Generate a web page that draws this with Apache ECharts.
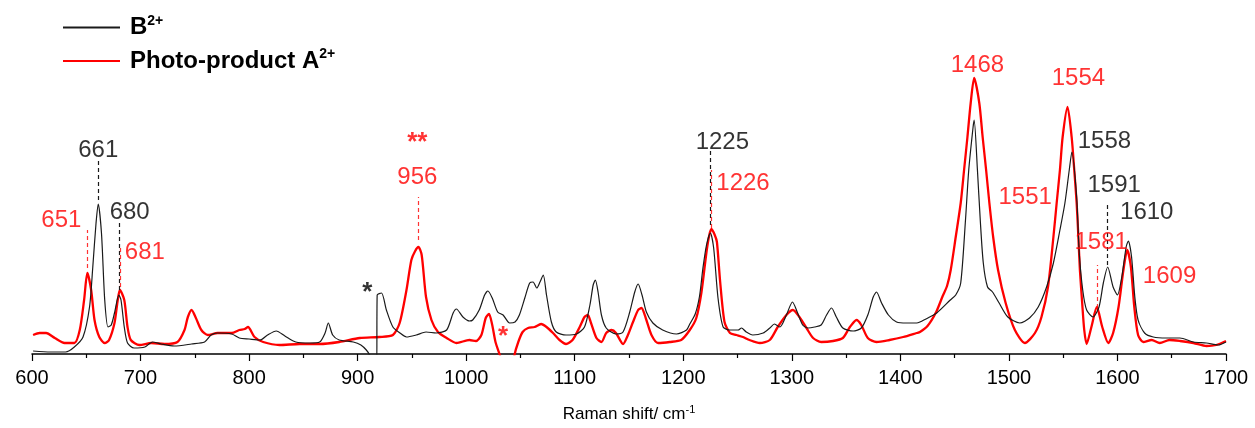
<!DOCTYPE html>
<html>
<head>
<meta charset="utf-8">
<script src="https://cdn.jsdelivr.net/npm/echarts@6/dist/echarts.min.js"></script>
<style>
  html, body { margin: 0; padding: 0; background: #fff; }
  #chart { width: 1255px; height: 428px; }
</style>
</head>
<body>
<div id="chart"></div>
<script>
// Raman spectra: wavenumber (cm-1) and intensity (a.u.)
const spectrumB = [
  [601,3],[617,2],[631,2],[639,7],[647,17],[653,47],[656,87],[659,131],[661,150],[664,121],
  [667,54],[670,27],[673,29],[676,41],[680,59],[682,54],[685,27],[688,11],[694,6],[704,7],
  [711,12],[719,10],[731,8],[747,10],[759,12],[765,19],[771,21],[784,20],[791,16],[800,15],
  [810,14],[817,19],[825,23],[833,18],[843,12],[856,11],[865,12],[870,21],[873,31],[877,19],
  [883,14],[896,12],[903,9],[908,4],[911,-1],[914,-12],[917.5,-12],[918,59],[922,61],[926.5,44],
  [932.5,27],[939,21],[945,17],[954,19],[963,22],[972.5,21],[982,24],[988,41],[991,45],[997,37],
  [1003,33],[1006,34],[1012,44],[1017,59],[1020,63],[1024,56],[1029,42],[1034,39],[1040,31],[1045,32],
  [1049,39],[1054,56],[1058.5,71],[1061.6,72],[1065,66],[1068,72],[1071,79],[1074,59],[1078.5,32],[1083,22],
  [1092,19],[1101.6,20],[1109,27],[1114,49],[1117,69],[1119,74],[1121.5,62],[1124.6,39],[1129,26],[1138,20],
  [1144.5,22],[1150.7,42],[1155.3,62],[1158.4,70],[1162,59],[1166,42],[1172,31],[1181,24],[1193.7,20],[1203,24],
  [1206,30],[1211,40],[1215,58],[1218,85],[1221.4,109],[1225,121],[1228,106],[1232,56],[1236.7,27],[1243,24],
  [1250.5,24],[1253.6,26],[1258,22],[1264,19],[1273.6,21],[1279.7,26],[1284,30],[1289,27],[1295,39],[1300.6,52],
  [1305,42],[1310,29],[1315,26],[1321,27],[1327,29],[1332,39],[1336.6,46],[1341,37],[1347,26],[1356.5,23],
  [1364,26],[1370,39],[1375,57],[1378,62],[1382.7,51],[1389,39],[1396.5,32],[1405.8,31],[1415,31],[1418,32],
  [1427,37],[1433.5,41],[1446,54],[1451,59],[1455.6,71],[1460,134],[1463,184],[1467,227],[1468,234],[1471,184],
  [1473.6,134],[1476.4,91],[1480.3,67],[1484.9,62],[1491,51],[1499,37],[1510,31],[1519,36],[1527,47],[1534.7,67],
  [1541,91],[1547,124],[1551.6,151],[1555.6,184],[1558,202],[1562.4,157],[1564.8,101],[1568,64],[1571.6,44],[1577.5,37],
  [1583,47],[1587,71],[1591,87],[1596,67],[1600,59],[1604,77],[1608,107],[1610,113],[1613,97],[1616,57],
  [1619,34],[1625,21],[1633,17],[1645,16],[1657.6,16],[1670,12],[1682,11],[1693,9],[1700,12]
];

const spectrumA = [
  [601,19],[607,21],[613,21],[621,16],[630,11],[639,11],[644,24],[648,54],[651,81],[654.5,64],
  [657.6,34],[662,17],[667,11],[671,14],[676,31],[679,54],[681,64],[685,54],[688,27],[691,14],
  [699,9],[710,11],[722,10],[734,12],[740.5,24],[743.6,37],[747,44],[751,36],[756,24],[762,19],
  [771,21],[784,21],[791,24],[796,25],[799,27],[805,17],[813,12],[828,9],[846.5,10],[865,10],
  [883,12],[902,16],[920,17],[932.5,19],[938.7,31],[945,64],[949.5,94],[953,103],[956,107],[959,99],
  [963,57],[968,34],[974,22],[982,16],[991,11],[1003,14],[1009,13],[1014,19],[1018,36],[1021,40],
  [1024,29],[1027,12],[1031,-1],[1035,-15],[1043,-15],[1044.5,-1],[1048,12],[1052,22],[1057,26],[1063,27],
  [1069,30],[1074,27],[1080,21],[1086,14],[1092,10],[1098,14],[1104.6,27],[1109,37],[1112,39],[1115,31],
  [1120,16],[1124.6,12],[1129,21],[1134,24],[1138,21],[1144.5,10],[1149,19],[1153.7,32],[1158.4,44],[1161.5,46],
  [1165.4,36],[1170.7,19],[1176.8,11],[1187.6,12],[1198,14],[1206,24],[1212,36],[1216.8,62],[1221.4,102],[1224,119],
  [1226,125],[1229,119],[1231,112],[1234,72],[1238,32],[1243,21],[1249,19],[1255,17],[1261,14],[1270.5,11],
  [1279.7,14],[1287,27],[1295,39],[1301,44],[1307,37],[1313.5,26],[1319.6,16],[1327,12],[1338,13],[1347,16],
  [1353.5,27],[1359.6,34],[1364,29],[1370,16],[1378,12],[1390,14],[1402.6,17],[1415,21],[1418,22],[1425,28],
  [1433,42],[1439,58],[1443,68],[1446.4,84],[1451,117],[1455.6,151],[1458.7,184],[1461.8,217],[1464.8,251],[1468,276],
  [1472.7,251],[1475.8,217],[1479,184],[1482,151],[1485.5,117],[1490,84],[1497,51],[1505.5,24],[1514.7,11],[1524,21],
  [1530,37],[1536,67],[1541,117],[1544,151],[1547,184],[1549.5,217],[1554,247],[1557.8,217],[1560.2,184],[1562.4,151],
  [1564,117],[1565.4,84],[1567.5,51],[1569.4,24],[1571.6,10],[1576,27],[1581,47],[1586,27],[1591.6,11],[1596,21],
  [1601,47],[1605.5,84],[1609,104],[1612.4,87],[1615.5,47],[1619,19],[1623.8,12],[1631.5,14],[1639,11],[1648,14],
  [1657.6,13],[1670,11],[1682,8],[1691,9],[1700,13]
];

// Assigned band positions (cm-1)
const peaksB = [661, 680, 1225, 1558, 1591, 1610];
const peaksA = [651, 681, 956, 1226, 1468, 1551, 1554, 1581, 1609];

const BLACK = '#1a1a1a';
const RED = '#ff0000';
const FONT = 'Arial, "Liberation Sans", sans-serif';

// where each band label sits and the extent of its dashed marker (in data units)
const layoutB = {
  661: { at: [661, 204], tick: [154, 194] },
  680: { at: [690, 142], tick: [64, 132] },
  1225: { at: [1236, 212], tick: [129, 204] },
  1558: { at: [1588, 213] },
  1591: { at: [1597, 169], tick: [89, 152] },
  1610: { at: [1627, 142] }
};
const layoutA = {
  651: { at: [627, 134], tick: [86, 124] },
  681: { at: [704, 102], tick: [67, 107] },
  956: { at: [955, 177], tick: [114, 157] },
  1226: { at: [1255, 171], tick: [126, 184] },
  1468: { at: [1471, 289] },
  1551: { at: [1515, 157] },
  1554: { at: [1564, 276] },
  1581: { at: [1585, 112], tick: [46, 89] },
  1609: { at: [1648, 78] }
};
const marksB = [{ text: '*', at: [909, 61] }];
const marksA = [{ text: '**', at: [955, 211] }, { text: '*', at: [1034, 17] }];

function labelPoints(peaks, layout, marks) {
  const pts = peaks.map(p => ({ value: [layout[p].at[0], layout[p].at[1]], name: String(p) }));
  marks.forEach(m => pts.push({
    value: m.at, name: m.text,
    label: { fontWeight: 'bold', fontSize: 26 }
  }));
  return pts;
}
function dashLines(peaks, layout) {
  return peaks.filter(p => layout[p].tick).map(p => [
    { coord: [p, layout[p].tick[0]] },
    { coord: [p, layout[p].tick[1]] }
  ]);
}

const chart = echarts.init(document.getElementById('chart'), null, { renderer: 'canvas' });

const option = {
  animation: false,
  backgroundColor: '#fff',
  textStyle: { fontFamily: FONT },
  grid: { left: 32, right: 29, top: 54, bottom: 74 },
  legend: {
    data: [
      { name: 'B', icon: 'rect', itemStyle: { color: BLACK } },
      { name: 'Photo-product A', icon: 'rect', itemStyle: { color: RED } }
    ],
    orient: 'vertical',
    left: 63,
    top: 14,
    padding: 0,
    itemWidth: 57,
    itemHeight: 2,
    itemGap: 8,
    formatter: n => '{b|' + n + '}{s|2+}',
    textStyle: {
      rich: {
        b: { fontSize: 24, fontWeight: 'bold', color: '#000', fontFamily: FONT, lineHeight: 27, padding: [0, 0, 0, 5] },
        s: { fontSize: 14, fontWeight: 'bold', color: '#000', fontFamily: FONT, verticalAlign: 'top', lineHeight: 14 }
      }
    }
  },
  xAxis: {
    type: 'value',
    min: 600,
    max: 1700,
    interval: 100,
    splitLine: { show: false },
    axisLine: { lineStyle: { color: '#000', width: 1.5 } },
    axisTick: { length: 7, lineStyle: { color: '#000', width: 1.2 } },
    minorTick: { show: true, splitNumber: 2, length: 4, lineStyle: { color: '#000', width: 1.2 } },
    axisLabel: { fontSize: 20, color: '#000', margin: 14, fontFamily: FONT, formatter: v => String(v) },
    name: '{a|Raman shift/ cm}{s|-1}',
    nameLocation: 'middle',
    nameGap: 50,
    nameTextStyle: {
      rich: {
        a: { fontSize: 17, color: '#000', fontFamily: FONT, lineHeight: 20 },
        s: { fontSize: 11, color: '#000', fontFamily: FONT, verticalAlign: 'top', lineHeight: 11 }
      }
    }
  },
  yAxis: { type: 'value', min: 0, max: 300, show: false },
  series: [
    {
      name: 'B',
      type: 'line',
      data: spectrumB,
      showSymbol: false,
      symbol: 'none',
      smooth: 0.25,
      clip: true,
      color: BLACK,
      lineStyle: { color: BLACK, width: 1.2 },
      z: 3,
      markLine: {
        silent: true,
        symbol: 'none',
        label: { show: false },
        lineStyle: { color: BLACK, type: [4, 3], width: 1.2 },
        data: dashLines(peaksB, layoutB)
      }
    },
    {
      name: 'Photo-product A',
      type: 'line',
      data: spectrumA,
      showSymbol: false,
      symbol: 'none',
      smooth: 0.25,
      clip: true,
      color: RED,
      lineStyle: { color: RED, width: 2.3 },
      z: 2,
      markLine: {
        silent: true,
        symbol: 'none',
        label: { show: false },
        lineStyle: { color: RED, type: [4, 3], width: 1.2, opacity: 0.8 },
        data: dashLines(peaksA, layoutA)
      }
    },
    {
      name: 'bandsB',
      type: 'scatter',
      symbolSize: 0,
      silent: true,
      data: labelPoints(peaksB, layoutB, marksB),
      label: {
        show: true, position: 'inside', formatter: p => p.name,
        color: '#000', fontSize: 24, fontFamily: FONT
      },
      z: 5
    },
    {
      name: 'bandsA',
      type: 'scatter',
      symbolSize: 0,
      silent: true,
      data: labelPoints(peaksA, layoutA, marksA),
      label: {
        show: true, position: 'inside', formatter: p => p.name,
        color: RED, fontSize: 24, fontFamily: FONT
      },
      z: 5
    }
  ]
};

chart.setOption(option);
</script>
</body>
</html>
